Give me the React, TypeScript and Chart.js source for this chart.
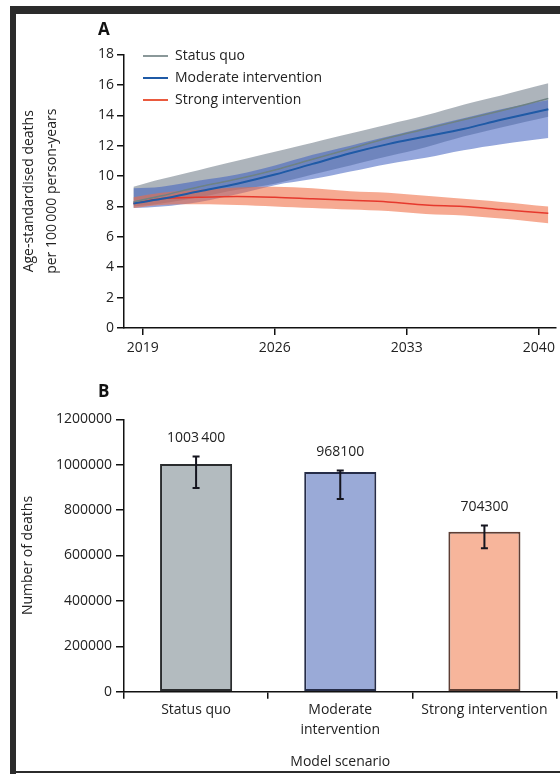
import { useEffect, useRef } from "react";
import { Chart, registerables } from "chart.js";

Chart.register(...registerables);

const FONT = "'Open Sans', 'DejaVu Sans', sans-serif";
const INK = "#222222";
const AXIS = "#111111";

// Panel A: age-standardised deaths per 100 000 person-years, by scenario
const years = [2018.5, 2020, 2022, 2024, 2026, 2028, 2030, 2032, 2034, 2036, 2038, 2040.5];
const yearTicks = [2019, 2026, 2033, 2040];

const statusQuoRate = [8.3, 8.7, 9.3, 9.8, 10.4, 11.1, 11.8, 12.5, 13.1, 13.7, 14.3, 15.1];
const statusQuoLow = [8.0, 8.2, 8.6, 9.1, 9.5, 10.1, 10.7, 11.3, 11.9, 12.6, 13.2, 13.9];
const statusQuoHigh = [9.3, 9.8, 10.4, 11.0, 11.6, 12.2, 12.8, 13.4, 14.0, 14.7, 15.3, 16.1];

const moderateRate = [8.2, 8.5, 9.0, 9.5, 10.1, 10.8, 11.5, 12.1, 12.6, 13.1, 13.7, 14.4];
const moderateLow = [7.9, 8.0, 8.3, 8.8, 9.4, 9.8, 10.3, 10.8, 11.2, 11.7, 12.1, 12.5];
const moderateHigh = [9.2, 9.3, 9.7, 10.1, 10.7, 11.4, 12.0, 12.6, 13.2, 13.8, 14.4, 15.0];

const strongRate = [8.2, 8.5, 8.6, 8.65, 8.6, 8.5, 8.4, 8.3, 8.1, 8.0, 7.8, 7.55];
const strongLow = [7.9, 8.1, 8.15, 8.1, 8.0, 7.9, 7.8, 7.7, 7.5, 7.4, 7.2, 6.9];
const strongHigh = [8.6, 8.9, 9.1, 9.25, 9.3, 9.2, 9.0, 8.9, 8.7, 8.5, 8.3, 8.0];

const seriesNames = ["Status quo", "Moderate intervention", "Strong intervention"];
const lineColors = ["#6e8283", "#1f5aa6", "#e6392d"];
const legendColors = ["#8a9899", "#1f5aa6", "#ea5a3e"];
const bandColors = ["rgba(113,126,137,0.58)", "rgba(62,95,192,0.55)", "rgba(240,108,68,0.58)"];

// Panel B: cumulative number of deaths by model scenario
const scenarioLabels: (string | string[])[] = ["Status quo", ["Moderate", "intervention"], "Strong intervention"];
const deaths = [1003400, 968100, 704300];
const deathsLow = [897000, 848500, 632400];
const deathsHigh = [1036400, 975000, 732100];
const barFills = ["#b3bbbf", "#9aaad7", "#f7b59b"];
const barEdges = ["#2a2c2e", "#262d48", "#5e3e34"];

const formatDeaths = (v: number) =>
  v >= 1000000 ? `${Math.floor(v / 1000)}\u2009${String(v % 1000).padStart(3, "0")}` : String(v);

const tickFont = { family: FONT, size: 14 };

function axisGrid(tickLength: number) {
  return {
    drawOnChartArea: false,
    drawTicks: true,
    tickLength,
    color: AXIS,
    tickColor: AXIS,
    lineWidth: 1.5,
    tickWidth: 1.5,
  };
}

const rateLegend = {
  id: "rateLegend",
  afterDraw(chart: any) {
    const { ctx, chartArea } = chart;
    ctx.save();
    ctx.font = `14px ${FONT}`;
    ctx.textBaseline = "middle";
    ctx.textAlign = "left";
    seriesNames.forEach((name, i) => {
      const x = chartArea.left + 19;
      const y = chartArea.top + 1.5 + i * 22;
      ctx.strokeStyle = legendColors[i];
      ctx.lineWidth = 2;
      ctx.beginPath();
      ctx.moveTo(x, y);
      ctx.lineTo(x + 25, y);
      ctx.stroke();
      ctx.fillStyle = INK;
      ctx.fillText(name, x + 32, y);
    });
    ctx.restore();
  },
};

function RatePanel() {
  const ref = useRef<HTMLCanvasElement>(null);
  useEffect(() => {
    if (!ref.current) return;
    const pts = (vals: number[]) => vals.map((y, i) => ({ x: years[i], y }));
    const band = (lo: number[], hi: number[], color: string, order: number) => [
      { data: pts(hi), borderWidth: 0, pointRadius: 0, tension: 0.35, fill: "+1", backgroundColor: color, order },
      { data: pts(lo), borderWidth: 0, pointRadius: 0, tension: 0.35, fill: false, order },
    ];
    const line = (vals: number[], color: string, width: number, label: string) => ({
      label,
      data: pts(vals),
      borderColor: color,
      borderWidth: width,
      pointRadius: 0,
      tension: 0.35,
      fill: false,
      order: 0,
    });
    const chart = new Chart(ref.current, {
      type: "line",
      data: {
        datasets: [
          ...band(statusQuoLow, statusQuoHigh, bandColors[0], 3),
          ...band(moderateLow, moderateHigh, bandColors[1], 2),
          ...band(strongLow, strongHigh, bandColors[2], 1),
          line(statusQuoRate, lineColors[0], 1.5, seriesNames[0]),
          line(moderateRate, lineColors[1], 2, seriesNames[1]),
          line(strongRate, lineColors[2], 1.5, seriesNames[2]),
        ] as any,
      },
      options: {
        responsive: false,
        animation: false,
        layout: { padding: { top: 40.5, right: 3, left: 0, bottom: 0 } },
        plugins: { legend: { display: false }, tooltip: { enabled: false } },
        scales: {
          x: {
            type: "linear",
            min: 2018,
            max: 2040.9,
            afterBuildTicks: (s: any) => {
              s.ticks = yearTicks.map((v) => ({ value: v }));
            },
            afterFit: (s: any) => {
              s.height = 47;
            },
            grid: axisGrid(7),
            border: { display: true, color: AXIS, width: 1.5 },
            ticks: {
              font: tickFont,
              color: INK,
              padding: 5,
              maxRotation: 0,
              autoSkip: false,
              callback: (v: any) => String(v),
            },
          },
          y: {
            min: 0,
            max: 18,
            afterFit: (s: any) => {
              s.width = 108;
            },
            grid: axisGrid(7),
            border: { display: true, color: AXIS, width: 1.5 },
            ticks: { stepSize: 2, font: tickFont, color: INK, padding: 3 },
            title: {
              display: true,
              text: ["Age-standardised deaths", "per 100\u2009000 person-years"],
              font: { family: FONT, size: 14, lineHeight: "23px" },
              color: INK,
              padding: { top: 1.5, bottom: 0 },
            },
          },
        },
      },
      plugins: [rateLegend],
    } as any);
    return () => chart.destroy();
  }, []);
  return <canvas ref={ref} width={544} height={361} style={{ position: "absolute", left: 16, top: 14 }} />;
}

const errorBars = {
  id: "errorBars",
  afterDatasetsDraw(chart: any) {
    const { ctx } = chart;
    const yScale = chart.scales.y;
    const meta = chart.getDatasetMeta(0);
    ctx.save();
    meta.data.forEach((bar: any, i: number) => {
      const x = bar.x;
      const top = yScale.getPixelForValue(deathsHigh[i]);
      const bottom = yScale.getPixelForValue(deathsLow[i]);
      ctx.strokeStyle = "#15151f";
      ctx.lineWidth = 2;
      ctx.beginPath();
      ctx.moveTo(x, top);
      ctx.lineTo(x, bottom);
      ctx.moveTo(x - 3.5, top);
      ctx.lineTo(x + 3.5, top);
      ctx.moveTo(x - 3.5, bottom);
      ctx.lineTo(x + 3.5, bottom);
      ctx.stroke();
      ctx.fillStyle = INK;
      ctx.font = `14px ${FONT}`;
      ctx.textAlign = "center";
      ctx.textBaseline = "middle";
      ctx.fillText(formatDeaths(deaths[i]), x, top - 18);
    });
    ctx.restore();
  },
};

function DeathsPanel() {
  const ref = useRef<HTMLCanvasElement>(null);
  useEffect(() => {
    if (!ref.current) return;
    const chart = new Chart(ref.current, {
      type: "bar",
      data: {
        labels: scenarioLabels,
        datasets: [
          {
            data: deaths,
            backgroundColor: barFills,
            borderColor: barEdges,
            borderWidth: 2,
            borderSkipped: false,
            categoryPercentage: 0.5,
            barPercentage: 1,
          },
        ],
      },
      options: {
        responsive: false,
        animation: false,
        layout: { padding: { top: 44.3, right: 3.5, left: 0, bottom: 0 } },
        plugins: { legend: { display: false }, tooltip: { enabled: false } },
        scales: {
          x: {
            type: "category",
            offset: true,
            afterFit: (s: any) => {
              s.height = 78.3;
            },
            grid: { ...axisGrid(7), offset: true },
            border: { display: true, color: AXIS, width: 1.5 },
            ticks: {
              font: { family: FONT, size: 14, lineHeight: "20px" },
              color: INK,
              padding: 1,
              maxRotation: 0,
              autoSkip: false,
            },
            title: {
              display: true,
              text: "Model scenario",
              font: { family: FONT, size: 14, lineHeight: "20px" },
              color: INK,
              padding: { top: 0, bottom: -2 },
            },
          },
          y: {
            min: 0,
            max: 1200000,
            afterFit: (s: any) => {
              s.width = 108;
            },
            grid: axisGrid(8),
            border: { display: true, color: AXIS, width: 1.5 },
            ticks: {
              stepSize: 200000,
              font: tickFont,
              color: INK,
              padding: 4,
              callback: (v: any) => String(v),
            },
            title: {
              display: true,
              text: "Number of deaths",
              font: { family: FONT, size: 14, lineHeight: "20px" },
              color: INK,
              padding: { top: 2.5, bottom: 0 },
            },
          },
        },
      },
      plugins: [errorBars],
    } as any);
    return () => chart.destroy();
  }, []);
  return <canvas ref={ref} width={544} height={395} style={{ position: "absolute", left: 16, top: 375 }} />;
}

const FRAME = "#2b2b2b";

export default function App() {
  const letter = {
    position: "absolute" as const,
    left: 98,
    fontFamily: FONT,
    fontWeight: 700,
    fontSize: 17,
    lineHeight: "17px",
    color: "#111",
  };
  return (
    <div
      style={{
        position: "absolute",
        left: 0,
        top: 0,
        width: 560,
        height: 774,
        background: "#ffffff",
        overflow: "hidden",
      }}
    >
      <div style={{ position: "absolute", left: 10, top: 6, width: 550, height: 8, background: FRAME }} />
      <div style={{ position: "absolute", left: 10, top: 6, width: 6, height: 768, background: FRAME }} />
      <div style={{ position: "absolute", left: 10, top: 771, width: 550, height: 2, background: FRAME }} />
      <RatePanel />
      <DeathsPanel />
      <div style={{ ...letter, top: 20 }}>A</div>
      <div style={{ ...letter, top: 382 }}>B</div>
    </div>
  );
}
